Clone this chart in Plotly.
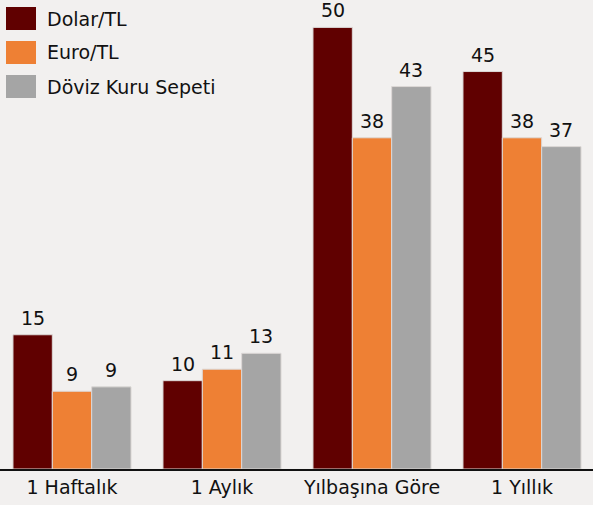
import plotly.graph_objects as go

categories = ["1 Haftalık", "1 Aylık", "Yılbaşına Göre", "1 Yıllık"]
series_names = ["Dolar/TL", "Euro/TL", "Döviz Kuru Sepeti"]
dolar = [15.2, 10.0, 50.0, 45.0]
euro = [8.8, 11.3, 37.5, 37.5]
sepet = [9.3, 13.1, 43.3, 36.5]
dolar_labels = ["15", "10", "50", "45"]
euro_labels = ["9", "11", "38", "38"]
sepet_labels = ["9", "13", "43", "37"]
colors = ["#600000", "#ee8034", "#a5a5a5"]

FONT = "DejaVu Sans"
FS = 19
BARGAP = 0.213
PX_PER_CAT = 150
bar_px = PX_PER_CAT * (1 - BARGAP) / 3

fig = go.Figure()
all_vals = [dolar, euro, sepet]
all_labs = [dolar_labels, euro_labels, sepet_labels]
for i, (name, vals, labs, col) in enumerate(zip(series_names, all_vals, all_labs, colors)):
    fig.add_trace(go.Bar(
        x=categories, y=vals, name=name,
        marker=dict(color=col, line=dict(color="#dcd8d6", width=1)),
        showlegend=False,
    ))
    for c, v, t in zip(categories, vals, labs):
        fig.add_annotation(x=c, y=v, text=t, showarrow=False,
                           xshift=(i - 1) * bar_px, yshift=4,
                           xanchor="center", yanchor="bottom",
                           font=dict(family=FONT, size=FS, color="#111111"))

# custom legend (large swatches)
for i, (name, col) in enumerate(zip(series_names, colors)):
    y0 = 7 + i * 34
    fig.add_shape(type="rect", xref="paper", yref="paper",
                  x0=6 / 593, x1=36 / 593,
                  y0=1 - (y0 + 23) / 469, y1=1 - y0 / 469,
                  fillcolor=col, line=dict(width=0))
    fig.add_annotation(xref="paper", yref="paper", x=45 / 593, y=1 - (y0 + 11.5) / 469,
                       text=name, showarrow=False, xanchor="left", yanchor="middle",
                       font=dict(family=FONT, size=FS, color="#111111"))

fig.update_layout(
    width=593, height=505,
    margin=dict(l=0, r=0, t=0, b=36),
    paper_bgcolor="#f2f0ef", plot_bgcolor="#f2f0ef",
    barmode="group", bargap=BARGAP, bargroupgap=0,
    xaxis=dict(range=[-0.48, -0.48 + 593 / PX_PER_CAT], showline=True, linecolor="#111111",
               linewidth=1.5, ticks="", showgrid=False,
               tickfont=dict(family=FONT, size=FS, color="#111111")),
    yaxis=dict(range=[0, 53.1], visible=False, showgrid=False),
)
fig.write_html("out.html", config={"displayModeBar": False},
               post_script="document.body.style.margin='0';document.body.style.background='#f2f0ef';")
